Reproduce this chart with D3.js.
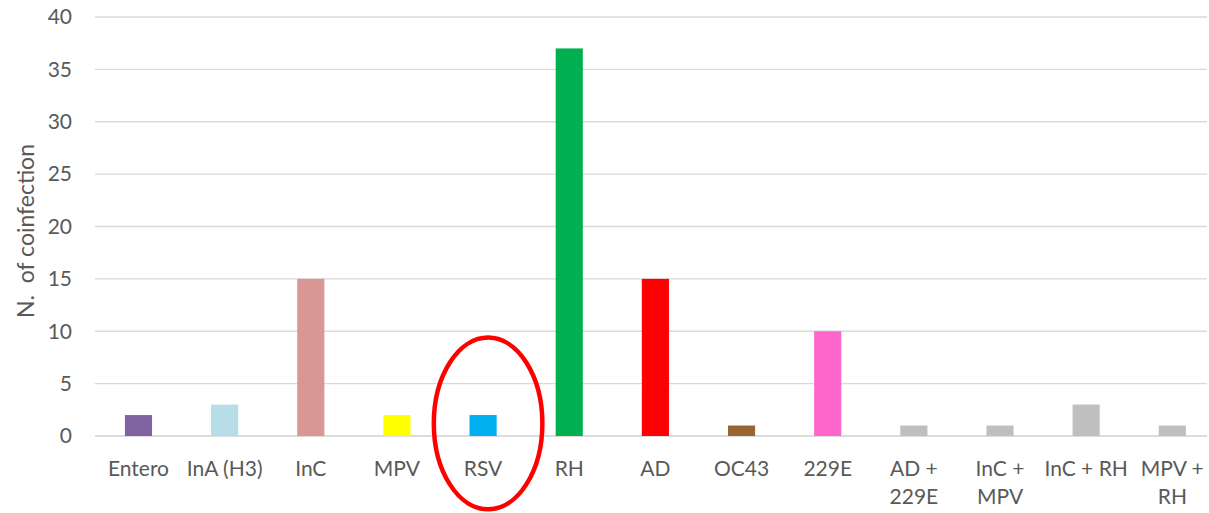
<!DOCTYPE html>
<html>
<head>
<meta charset="utf-8">
<script src="https://cdn.jsdelivr.net/npm/d3@7"></script>
<style>
  body { margin: 0; background: #fff; }
  svg { display: block; }
</style>
</head>
<body>
<svg id="svg1" width="1209" height="513"></svg>
<script>
'use strict'
// chart data
const categories = ["Entero", "InA (H3)", "InC", "MPV", "RSV", "RH", "AD", "OC43", "229E",
    "AD + 229E", "InC + MPV", "InC + RH", "MPV + RH"];
const labelLines = [["Entero"], ["InA (H3)"], ["InC"], ["MPV"], ["RSV"], ["RH"], ["AD"], ["OC43"], ["229E"],
    ["AD +", "229E"], ["InC +", "MPV"], ["InC + RH"], ["MPV +", "RH"]];
const coinfections = [2, 3, 15, 2, 2, 37, 15, 1, 10, 1, 1, 3, 1];
const barColors = ["#8064a2", "#b7dde8", "#d99694", "#ffff00", "#00b0f0", "#00b050", "#ff0000",
    "#996633", "#ff66cc", "#bfbfbf", "#bfbfbf", "#bfbfbf", "#bfbfbf"];
const yTicks = [0, 5, 10, 15, 20, 25, 30, 35, 40];
const highlighted = "RSV";

const font = "Lato, 'Open Sans', sans-serif";
const textColor = "#595959";

let svg = d3.select("#svg1"),
    margin = { top: 17, right: 2, bottom: 77, left: 95 },
    width = +svg.attr("width") - margin.left - margin.right,
    height = +svg.attr("height") - margin.top - margin.bottom,
    // the category bands run slightly past the right edge of the gridlines
    x = d3.scaleBand().range([0.4, 1120.4]).domain(categories).padding(0),
    y = d3.scaleLinear().range([height, 0]).domain([0, 40]),
    g = svg.append("g").attr("transform", `translate(${margin.left},${margin.top})`);

const barW = x.bandwidth() * 0.315;

// gridlines
g.selectAll(".grid")
    .data(yTicks)
    .enter().append("line")
    .attr("class", "grid")
    .attr("x1", 0).attr("x2", width)
    .attr("y1", d => y(d)).attr("y2", d => y(d))
    .attr("stroke", d => d === 0 ? "#d0d0d0" : "#d9d9d9")
    .attr("stroke-width", d => d === 0 ? 1.5 : 1.3);

// y tick labels
g.selectAll(".ytick")
    .data(yTicks)
    .enter().append("text")
    .attr("class", "ytick")
    .attr("x", -23)
    .attr("y", d => y(d))
    .attr("dy", "0.35em")
    .attr("text-anchor", "end")
    .attr("font-family", font)
    .attr("font-size", 21)
    .attr("fill", textColor)
    .text(d => d);

// bars
g.selectAll(".bar")
    .data(coinfections)
    .enter().append("rect")
    .attr("class", "bar")
    .attr("x", (d, i) => x(categories[i]) + (x.bandwidth() - barW) / 2)
    .attr("y", d => y(d))
    .attr("width", barW)
    .attr("height", d => y(0) - y(d))
    .attr("fill", (d, i) => barColors[i]);

// x labels (may be two lines)
let xl = g.selectAll(".xlabel")
    .data(labelLines)
    .enter().append("text")
    .attr("class", "xlabel")
    .attr("text-anchor", "middle")
    .attr("font-family", font)
    .attr("font-size", 21)
    .attr("fill", textColor)
    .attr("transform", (d, i) => `translate(${x(categories[i]) + x.bandwidth() / 2},${height + 40})`);
xl.selectAll("tspan")
    .data(d => d)
    .enter().append("tspan")
    .attr("x", 0)
    .attr("y", (d, i) => i * 28)
    .text(d => d);

// y axis title (keep the double space)
svg.append("text")
    .attr("transform", `translate(34,${margin.top + 214}) rotate(-90)`)
    .attr("text-anchor", "middle")
    .attr("font-family", font)
    .attr("font-size", 23)
    .attr("fill", textColor)
    .style("white-space", "pre")
    .text("N.  of coinfection");

// red ellipse around RSV
g.append("ellipse")
    .attr("cx", x(highlighted) + x.bandwidth() / 2 + 5)
    .attr("cy", y(1.2))
    .attr("rx", x.bandwidth() * 0.63)
    .attr("ry", y(0) - y(8.2))
    .attr("fill", "none")
    .attr("stroke", "#ff0000")
    .attr("stroke-width", 4.5);
</script>
</body>
</html>
